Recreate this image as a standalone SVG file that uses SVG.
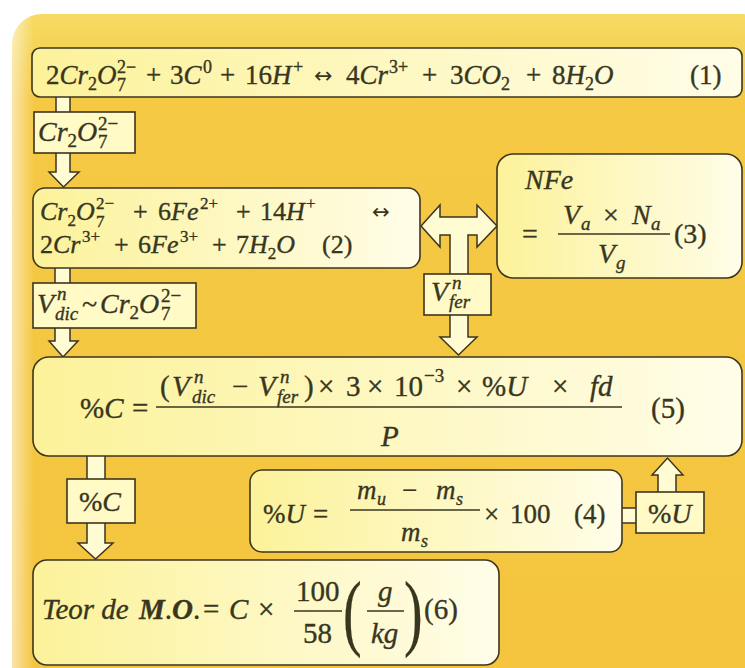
<svg xmlns="http://www.w3.org/2000/svg" width="745" height="668" viewBox="0 0 745 668">
<defs>
<linearGradient id="bg" x1="0" y1="0" x2="0" y2="1">
<stop offset="0" stop-color="#F6DB63"/>
<stop offset="0.12" stop-color="#F5C944"/>
<stop offset="1" stop-color="#F4C43E"/>
</linearGradient>
<linearGradient id="bgL" x1="0" y1="0" x2="1" y2="0">
<stop offset="0" stop-color="#ffffff" stop-opacity="0.55"/>
<stop offset="1" stop-color="#ffffff" stop-opacity="0"/>
</linearGradient>
<linearGradient id="box" x1="0" y1="0" x2="1" y2="0">
<stop offset="0" stop-color="#FCF29A"/>
<stop offset="1" stop-color="#FFFDE8"/>
</linearGradient>
<style>
.bx{fill:url(#box);stroke:#3d3520;stroke-width:1.6}
.lb{fill:#FFFAC6;stroke:#3d3520;stroke-width:1.6}
.ar{fill:#FFFBD2;stroke:#3d3520;stroke-width:1.5;stroke-linejoin:miter}
.e{font-family:"Liberation Serif","Times New Roman",serif;font-style:italic;fill:#38361f;stroke:#38361f;stroke-width:0.35}
.r{font-style:normal}
.sy{font-family:"DejaVu Sans",sans-serif;font-style:normal;fill:#38361f}
.b{font-weight:bold}
.fl{stroke:#38361f;stroke-width:1.6}
</style>
</defs>

<rect x="0" y="0" width="745" height="668" fill="#ffffff"/>
<rect x="12" y="14" width="760" height="690" rx="30" fill="url(#bg)"/>
<rect x="12" y="14" width="22" height="654" fill="url(#bgL)"/>

<g id="connectors">
<path class="ar" d="M56,97 V172 H49 L63.5,187 L79,172 H70 V97"/>
<path class="ar" d="M55,268 V341 H49 L63,357 L78,341 H70 V268"/>
<path class="ar" d="M421,226 L440,205 V217 H477 V205 L497,226 L477,247 V235 H468 V337 H477 L458.5,355 L440,337 H450 V235 H440 V247 Z"/>
<path class="ar" d="M87,456 V543 H78 L95.5,559 L113,543 H105 V456"/>
<path class="ar" d="M658,492 V475 H652 L667.5,458 L683,475 H676 V492"/>
<rect class="ar" x="620" y="508" width="17" height="15"/>
</g>

<g id="eq1">
<rect class="bx" x="32" y="48" width="710" height="49" rx="8"/>
<text class="e" style="font-size:27px" y="84"><tspan x="46" class="r">2</tspan>Cr<tspan class="r" style="font-size:18px" dy="6">2</tspan><tspan dy="-6">O</tspan>
<tspan x="146" class="r">+</tspan>
<tspan x="170" class="r">3</tspan>C
<tspan x="220" class="r">+</tspan>
<tspan x="245" class="r">16</tspan>H
<tspan x="346" class="r">4</tspan>Cr
<tspan x="422" class="r">+</tspan>
<tspan x="450" class="r">3</tspan>CO<tspan class="r" style="font-size:18px" dy="6">2</tspan>
<tspan x="526" class="r" dy="-6">+</tspan>
<tspan x="552" class="r">8</tspan>H<tspan class="r" style="font-size:18px" dy="6">2</tspan><tspan dy="-6">O</tspan>
<tspan x="690" class="r">(1)</tspan></text>
<text class="e r" style="font-size:18px" x="117" y="73">2−</text>
<text class="e r" style="font-size:18px" x="117" y="91">7</text>
<text class="e r" style="font-size:18px" x="203" y="73">0</text>
<text class="e r" style="font-size:18px" x="293" y="73">+</text>
<text class="e r" style="font-size:18px" x="389" y="73">3+</text>
<text class="sy" style="font-size:22px" x="314" y="83">↔</text>
</g>

<g id="lbl1">
<rect class="lb" x="34" y="112" width="101" height="41"/>
<text class="e" style="font-size:28px" x="38" y="141">Cr<tspan class="r" style="font-size:19px" dy="6">2</tspan><tspan dy="-6">O</tspan></text>
<text class="e r" style="font-size:19px" x="98" y="130">2−</text>
<text class="e r" style="font-size:19px" x="98" y="148">7</text>
</g>

<g id="eq2">
<rect class="bx" x="33" y="188" width="387" height="80" rx="12"/>
<text class="e" style="font-size:26px" y="220"><tspan x="40">Cr</tspan><tspan class="r" style="font-size:17px" dy="6">2</tspan><tspan dy="-6">O</tspan>
<tspan x="133" class="r">+</tspan>
<tspan x="158" class="r">6</tspan>Fe
<tspan x="236" class="r">+</tspan>
<tspan x="260" class="r">14</tspan>H</text>
<text class="e r" style="font-size:17px" x="96" y="209">2−</text>
<text class="e r" style="font-size:17px" x="96" y="227">7</text>
<text class="e r" style="font-size:17px" x="200" y="209">2+</text>
<text class="e r" style="font-size:17px" x="306" y="209">+</text>
<text class="sy" style="font-size:21px" x="372" y="219">↔</text>
<text class="e" style="font-size:26px" y="253"><tspan x="40" class="r">2</tspan>Cr
<tspan x="114" class="r">+</tspan>
<tspan x="138" class="r">6</tspan>Fe
<tspan x="212" class="r">+</tspan>
<tspan x="236" class="r">7</tspan>H<tspan class="r" style="font-size:17px" dy="6">2</tspan><tspan dy="-6">O</tspan>
<tspan x="322" class="r">(2)</tspan></text>
<text class="e r" style="font-size:17px" x="82" y="242">3+</text>
<text class="e r" style="font-size:17px" x="180" y="242">3+</text>
</g>

<g id="eq3">
<rect class="bx" x="497" y="154" width="245" height="124" rx="16"/>
<text class="e" style="font-size:28px" x="525" y="189">NFe</text>
<text class="e r" style="font-size:28px" x="522" y="243">=</text>
<text class="e" style="font-size:28px" y="224"><tspan x="563">V</tspan><tspan x="603" class="r">×</tspan><tspan x="632">N</tspan></text>
<text class="e" style="font-size:19px" x="581" y="230">a</text>
<text class="e" style="font-size:19px" x="651" y="230">a</text>
<line class="fl" x1="558" y1="234" x2="670" y2="234"/>
<text class="e" style="font-size:28px" x="598" y="263">V</text>
<text class="e" style="font-size:19px" x="616" y="269">g</text>
<text class="e r" style="font-size:28px" x="674" y="243">(3)</text>
</g>

<g id="lbl2">
<rect class="lb" x="33" y="283" width="163" height="45"/>
<text class="e" style="font-size:28px" y="313"><tspan x="37">V</tspan><tspan x="82" class="r">~</tspan><tspan x="100">Cr</tspan><tspan class="r" style="font-size:19px" dy="6">2</tspan><tspan dy="-6">O</tspan></text>
<text class="e" style="font-size:19px" x="57" y="300">n</text>
<text class="e" style="font-size:19px" x="55" y="320">dic</text>
<text class="e r" style="font-size:19px" x="161" y="302">2−</text>
<text class="e r" style="font-size:19px" x="161" y="320">7</text>
</g>

<g id="lbl3">
<rect class="lb" x="424" y="274" width="67" height="41"/>
<text class="e" style="font-size:28px" x="431" y="301">V</text>
<text class="e" style="font-size:19px" x="452" y="289">n</text>
<text class="e" style="font-size:19px" x="449" y="308">fer</text>
</g>

<g id="eq5">
<rect class="bx" x="33" y="357" width="709" height="99" rx="16"/>
<text class="e" style="font-size:29px" y="418"><tspan x="80" class="r">%</tspan>C<tspan x="132" class="r">=</tspan></text>
<text class="e" style="font-size:29px" y="396"><tspan x="160" class="r">(</tspan><tspan x="172">V</tspan>
<tspan x="232" class="r">−</tspan>
<tspan x="258">V</tspan>
<tspan x="304" class="r">)</tspan>
<tspan x="318" class="r">×</tspan>
<tspan x="346" class="r">3</tspan>
<tspan x="367" class="r">×</tspan>
<tspan x="394" class="r">10</tspan>
<tspan x="456" class="r">×</tspan>
<tspan x="482" class="r">%</tspan>U
<tspan x="552" class="r">×</tspan>
<tspan x="590">fd</tspan></text>
<text class="e" style="font-size:19px" x="194" y="383">n</text>
<text class="e" style="font-size:19px" x="192" y="403">dic</text>
<text class="e" style="font-size:19px" x="280" y="383">n</text>
<text class="e" style="font-size:19px" x="277" y="403">fer</text>
<text class="e r" style="font-size:19px" x="424" y="382">−3</text>
<line class="fl" x1="156" y1="407" x2="622" y2="407"/>
<text class="e" style="font-size:29px" x="381" y="446">P</text>
<text class="e r" style="font-size:29px" x="651" y="418">(5)</text>
</g>

<g id="lblC">
<rect class="lb" x="67" y="479" width="68" height="44"/>
<text class="e" style="font-size:28px" x="79" y="511"><tspan class="r">%</tspan>C</text>
</g>

<g id="eq4">
<rect class="bx" x="250" y="470" width="372" height="82" rx="12"/>
<text class="e" style="font-size:27px" y="523"><tspan x="263" class="r">%</tspan>U<tspan x="313" class="r">=</tspan></text>
<text class="e" style="font-size:27px" y="499"><tspan x="357">m</tspan><tspan x="402" class="r">−</tspan><tspan x="436">m</tspan></text>
<text class="e" style="font-size:18px" x="377" y="505">u</text>
<text class="e" style="font-size:18px" x="456" y="505">s</text>
<line class="fl" x1="350" y1="510" x2="480" y2="510"/>
<text class="e" style="font-size:27px" x="401" y="541">m</text>
<text class="e" style="font-size:18px" x="421" y="547">s</text>
<text class="e r" style="font-size:27px" y="523"><tspan x="484">×</tspan><tspan x="510">100</tspan><tspan x="574">(4)</tspan></text>
</g>

<g id="lblU">
<rect class="lb" x="636" y="492" width="68" height="41"/>
<text class="e" style="font-size:28px" x="648" y="523"><tspan class="r">%</tspan>U</text>
</g>

<g id="eq6">
<rect class="bx" x="33" y="560" width="466" height="105" rx="14"/>
<text class="e" style="font-size:29px" y="619"><tspan x="42">Teor de </tspan><tspan x="139" class="b">M</tspan><tspan class="r">.</tspan><tspan class="b">O</tspan><tspan class="r">.</tspan><tspan x="203" class="r">=</tspan><tspan x="229">C</tspan><tspan x="258" class="r">×</tspan></text>
<text class="e r" style="font-size:29px" x="296" y="601">100</text>
<line class="fl" x1="294" y1="611" x2="342" y2="611"/>
<text class="e r" style="font-size:29px" x="303" y="643">58</text>
<text class="e r" style="font-size:56px;stroke-width:0.2" transform="translate(343,640) scale(1,1.5)">(</text>
<text class="e" style="font-size:29px" x="378" y="601">g</text>
<line class="fl" x1="367" y1="611" x2="404" y2="611"/>
<text class="e" style="font-size:29px" x="371" y="643">kg</text>
<text class="e r" style="font-size:56px;stroke-width:0.2" transform="translate(404,640) scale(1,1.5)">)</text>
<text class="e r" style="font-size:29px" x="424" y="619">(6)</text>
</g>
</svg>
